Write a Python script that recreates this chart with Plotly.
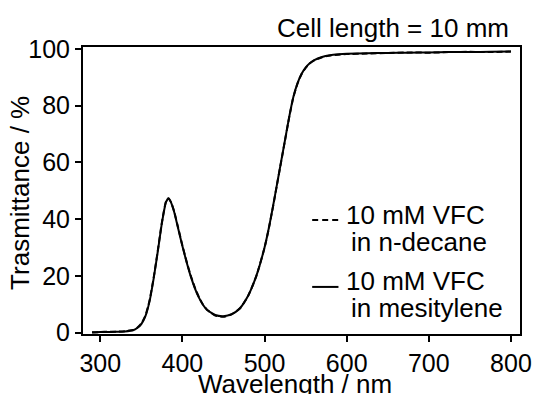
import plotly.graph_objects as go

# Wavelength grid (nm)
wavelength = [290, 300, 310, 320, 330, 340, 345, 350, 355, 360, 365, 370, 375,
              380, 383, 386, 390, 395, 400, 405, 410, 415, 420, 425, 430, 440,
              450, 460, 470, 480, 490, 500, 505, 510, 515, 520, 525, 530, 535,
              540, 545, 550, 555, 560, 570, 580, 590, 600, 625, 650, 675, 700,
              725, 750, 775, 800]

# Transmittance (%) of 10 mM VFC in mesitylene
t_mesitylene = [0.1, 0.2, 0.2, 0.3, 0.4, 0.8, 1.6, 3.0, 5.8, 11.0, 19.0, 28.5,
                38.5, 46.0, 47.3, 46.0, 42.5, 36.5, 30.5, 25.0, 20.0, 15.8,
                12.4, 9.8, 8.0, 6.2, 5.8, 6.5, 8.6, 13.0, 20.0, 30.0, 36.5,
                44.0, 52.0, 60.0, 68.0, 76.0, 83.0, 87.8, 91.2, 93.4, 95.0,
                96.0, 97.2, 97.8, 98.1, 98.3, 98.5, 98.6, 98.7, 98.8, 98.9,
                98.9, 99.0, 99.1]

# Transmittance (%) of 10 mM VFC in n-decane
t_decane = [0.0, 0.2, 0.3, 0.3, 0.5, 0.9, 1.7, 3.2, 6.0, 11.3, 19.3, 28.8,
            38.8, 46.2, 47.4, 46.1, 42.7, 36.8, 30.7, 25.2, 20.2, 16.0, 12.6,
            9.9, 8.1, 6.0, 5.6, 6.4, 8.5, 12.9, 19.9, 29.9, 36.4, 43.9, 51.9,
            59.9, 67.9, 75.9, 82.9, 87.7, 91.1, 93.3, 94.9, 95.9, 97.1, 97.7,
            98.0, 98.2, 98.4, 98.6, 98.8, 98.7, 98.9, 99.0, 98.9, 99.1]

x_ticks = [300, 400, 500, 600, 700, 800]
y_ticks = [0, 20, 40, 60, 80, 100]

FONT = "Liberation Sans, Arial, Helvetica, sans-serif"
FS_TICK = 25
FS = 26

fig = go.Figure()
fig.add_trace(go.Scatter(x=wavelength, y=t_mesitylene, mode="lines",
                         line=dict(color="black", width=2, shape="spline",
                                   smoothing=0.5),
                         name="10 mM VFC in mesitylene", showlegend=False))
fig.add_trace(go.Scatter(x=wavelength, y=t_decane, mode="lines",
                         line=dict(color="black", width=2, dash="6px,3px",
                                   shape="spline", smoothing=0.5),
                         name="10 mM VFC in n-decane", showlegend=False))

# Hand-drawn legend inside the plot area
legend_items = [
    ("6px,4px", 39.7, "10 mM VFC", 41.5, "in n-decane", 31.9),
    ("solid", 16.1, "10 mM VFC", 18.2, "in mesitylene", 8.6),
]
for dash, y_line, line1, y1, line2, y2 in legend_items:
    fig.add_shape(type="line", xref="x", yref="y", x0=558, x1=590,
                  y0=y_line, y1=y_line,
                  line=dict(color="black", width=2, dash=dash))
    fig.add_annotation(x=597, y=y1, xref="x", yref="y", text=line1,
                       showarrow=False, xanchor="left", yanchor="middle",
                       font=dict(family=FONT, size=FS, color="black"))
    fig.add_annotation(x=603, y=y2, xref="x", yref="y", text=line2,
                       showarrow=False, xanchor="left", yanchor="middle",
                       font=dict(family=FONT, size=FS, color="black"))

fig.add_annotation(x=1.0, y=1.0, xref="paper", yref="paper",
                   text="Cell length = 10 mm", showarrow=False,
                   xanchor="right", yanchor="bottom", yshift=2, xshift=-9,
                   font=dict(family=FONT, size=FS, color="black"))

# Axis titles
fig.add_annotation(x=0.485, y=-0.174, xref="paper", yref="paper",
                   text="Wavelength / nm", showarrow=False,
                   xanchor="center", yanchor="middle",
                   font=dict(family=FONT, size=FS, color="black"))
fig.add_annotation(x=-0.143, y=0.49, xref="paper", yref="paper",
                   text="Trasmittance / %", showarrow=False, textangle=-90,
                   xanchor="center", yanchor="middle",
                   font=dict(family=FONT, size=FS, color="black"))

fig.update_layout(
    width=535, height=394,
    margin=dict(l=83, r=15, t=47, b=60),
    paper_bgcolor="white", plot_bgcolor="white",
    font=dict(family=FONT, size=FS_TICK, color="black"),
    xaxis=dict(range=[279, 811], tickvals=x_ticks, showgrid=False,
               zeroline=False, showline=True, linecolor="black", linewidth=2,
               mirror=True, ticks="outside", ticklen=6, tickwidth=1.5,
               tickcolor="black", tickfont=dict(family=FONT, size=FS_TICK),
               automargin=False),
    yaxis=dict(range=[-0.5, 100.7], tickvals=y_ticks, showgrid=False,
               zeroline=False, showline=True, linecolor="black", linewidth=2,
               mirror=True, ticks="outside", ticklen=6, tickwidth=1.5,
               tickcolor="black", tickfont=dict(family=FONT, size=FS_TICK),
               automargin=False),
)

fig.write_html("out.html")
